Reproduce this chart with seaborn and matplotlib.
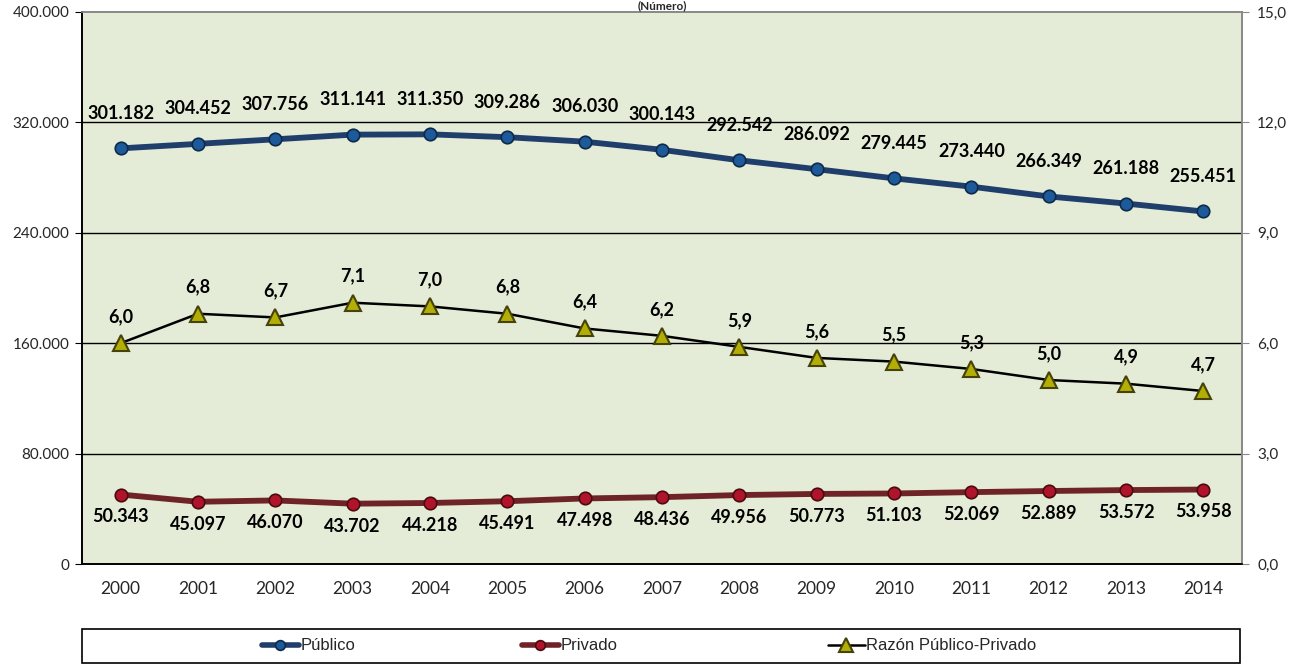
import numpy as np
import pandas as pd
import seaborn as sns
import matplotlib
matplotlib.use("Agg")
import matplotlib.pyplot as plt
from matplotlib.patches import Rectangle
from matplotlib.lines import Line2D
from matplotlib.ticker import FuncFormatter
from matplotlib import font_manager

years = ["2000", "2001", "2002", "2003", "2004", "2005", "2006", "2007",
         "2008", "2009", "2010", "2011", "2012", "2013", "2014"]
publico = [301182, 304452, 307756, 311141, 311350, 309286, 306030, 300143,
           292542, 286092, 279445, 273440, 266349, 261188, 255451]
privado = [50343, 45097, 46070, 43702, 44218, 45491, 47498, 48436,
           49956, 50773, 51103, 52069, 52889, 53572, 53958]
razon = [6.0, 6.8, 6.7, 7.1, 7.0, 6.8, 6.4, 6.2, 5.9, 5.6, 5.5, 5.3, 5.0, 4.9, 4.7]
series_names = ["Público", "Privado", "Razón Público-Privado"]

df = pd.DataFrame({"pos": np.arange(len(years)), "anio": years,
                   "publico": publico, "privado": privado, "razon": razon})

sns.set_style("white")
plt.rcParams['font.family'] = ['Lato', 'DejaVu Sans']

# narrow font for the legend if there is one
names = {f.name for f in font_manager.fontManager.ttflist}
leg_family = "Liberation Sans Narrow" if "Liberation Sans Narrow" in names else "Liberation Sans"

W, H = 1304, 665
fig = plt.figure(figsize=(W / 100, H / 100), dpi=100)
ax = fig.add_axes([82 / W, 1 - 564 / H, (1242 - 82) / W, (564 - 12) / H])
ax.set_facecolor("#E4EBD6")

for yv in [80000, 160000, 240000, 320000]:
    ax.axhline(yv, color="black", lw=1, zorder=1)

pub_c = "#1F3E6B"
pri_c = "#6E2426"
pub_m = dict(marker="o", markersize=9, markerfacecolor="#1C5A9A",
             markeredgecolor="#0E2A4A", markeredgewidth=1.2)
pri_m = dict(marker="o", markersize=9, markerfacecolor="#B0142A",
             markeredgecolor="#4A0A10", markeredgewidth=1.2)
raz_m = dict(marker="^", markersize=12, markerfacecolor="#B3AE05",
             markeredgecolor="#45420A", markeredgewidth=1.5)

sns.lineplot(data=df, x="pos", y="publico", ax=ax, color=pub_c, lw=4.2, zorder=4, **pub_m)
sns.lineplot(data=df, x="pos", y="privado", ax=ax, color=pri_c, lw=4.2, zorder=4, **pri_m)

ax.set_ylim(0, 400000)
ax.set_xlim(-0.5, len(years) - 0.5)
ax.set_yticks(np.arange(0, 400001, 80000))
ax.yaxis.set_major_formatter(FuncFormatter(lambda v, p: f"{int(v):,}".replace(",", ".")))

lab_kw = dict(textcoords="offset points", ha="center", fontsize=13,
              fontweight="bold", color="black")
for i, v in enumerate(publico):
    ax.annotate(f"{v:,}".replace(",", "."), (i, v), xytext=(0, 19), va="bottom", **lab_kw)
for i, v in enumerate(privado):
    ax.annotate(f"{v:,}".replace(",", "."), (i, v), xytext=(0, -10), va="top", **lab_kw)

ax2 = ax.twinx()
sns.lineplot(data=df, x="pos", y="razon", ax=ax2, color="black", lw=1.8, zorder=4, **raz_m)
ax2.set_ylim(0, 15)
ax2.set_yticks(np.arange(0, 15.1, 3))
ax2.yaxis.set_major_formatter(FuncFormatter(lambda v, p: f"{v:.1f}".replace(".", ",")))
for i, v in enumerate(razon):
    ax2.annotate(f"{v:.1f}".replace(".", ","), (i, v), xytext=(0, 13), va="bottom", **lab_kw)

# x axis: tick marks between categories, labels centred
ax.set_xticks(np.arange(-0.5, len(years), 1))
ax.set_xticklabels([])
ax.set_xticks(np.arange(len(years)), minor=True)
ax.set_xticklabels(years, minor=True, fontsize=12.5)
ax.tick_params(axis="x", which="major", direction="out", length=5, color="black", width=1)
ax.tick_params(axis="x", which="minor", length=0, pad=12)
ax.tick_params(axis="y", direction="out", length=5, color="black", labelsize=11, pad=4)
ax2.tick_params(axis="y", direction="out", length=5, color="#888888", labelsize=11, pad=6)

for a in (ax, ax2):
    a.set_xlabel("")
    a.set_ylabel("")
    a.spines["left"].set_color("black")
    a.spines["bottom"].set_color("black")
    a.spines["top"].set_color("#888888")
    a.spines["right"].set_color("#888888")
    for s in a.spines.values():
        s.set_linewidth(1.2)

fig.text(662 / W, 1.0, "(Número)", ha="center", va="top", fontsize=8.5, fontweight="bold")

# legend frame and entries
fig.patches.append(Rectangle((82 / W, 1 - 663 / H), (1240 - 82) / W, 34 / H,
                             transform=fig.transFigure, fill=False,
                             edgecolor="black", lw=1.2))
leg_pub = dict(pub_m, markersize=7)
leg_pri = dict(pri_m, markersize=7)
leg_raz = dict(raz_m, markersize=10)
handles = [Line2D([], [], color=pub_c, lw=4, **leg_pub),
           Line2D([], [], color=pri_c, lw=4, **leg_pri),
           Line2D([], [], color="black", lw=1.8, **leg_raz)]
starts = [262, 522, 828]
for h, name, x0 in zip(handles, series_names, starts):
    leg = fig.legend([h], [name], loc="center left", bbox_to_anchor=(x0 / W, 1 - 646 / H),
                     frameon=False, handlelength=2.2, handletextpad=0.1,
                     borderaxespad=0, borderpad=0,
                     prop={"family": [leg_family, "DejaVu Sans"], "size": 12})

fig.savefig("out.png", dpi=100)
